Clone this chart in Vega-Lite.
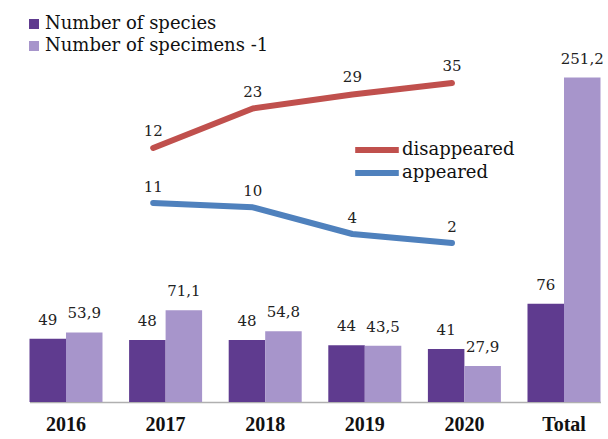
{
  "$schema": "https://vega.github.io/schema/vega-lite/v6.json",
  "width": 571,
  "height": 372,
  "autosize": "none",
  "padding": {"left": 29.5, "top": 30, "right": 7.5, "bottom": 37},
  "background": "white",
  "config": {
    "view": {"stroke": null},
    "font": "DejaVu Serif",
    "text": {"font": "DejaVu Serif"},
    "legend": {"labelFont": "DejaVu Serif"},
    "axis": {"labelFont": "Liberation Serif"},
    "locale": {"number": {"decimal": ",", "thousands": " ", "grouping": [3], "currency": ["", ""]}}
  },
  "datasets": {
    "bars": [
      {"year": "2016", "series": "Number of species", "value": 49},
      {"year": "2016", "series": "Number of specimens -1", "value": 53.9},
      {"year": "2017", "series": "Number of species", "value": 48},
      {"year": "2017", "series": "Number of specimens -1", "value": 71.1},
      {"year": "2018", "series": "Number of species", "value": 48},
      {"year": "2018", "series": "Number of specimens -1", "value": 54.8},
      {"year": "2019", "series": "Number of species", "value": 44},
      {"year": "2019", "series": "Number of specimens -1", "value": 43.5},
      {"year": "2020", "series": "Number of species", "value": 41},
      {"year": "2020", "series": "Number of specimens -1", "value": 27.9},
      {"year": "Total", "series": "Number of species", "value": 76},
      {"year": "Total", "series": "Number of specimens -1", "value": 251.2}
    ],
    "lines": [
      {"year": "2017", "type": "disappeared", "value": 12},
      {"year": "2018", "type": "disappeared", "value": 23},
      {"year": "2019", "type": "disappeared", "value": 29},
      {"year": "2020", "type": "disappeared", "value": 35},
      {"year": "2017", "type": "appeared", "value": 11},
      {"year": "2018", "type": "appeared", "value": 10},
      {"year": "2019", "type": "appeared", "value": 4},
      {"year": "2020", "type": "appeared", "value": 2}
    ]
  },
  "layer": [
    {
      "data": {"name": "bars"},
      "encoding": {
        "x": {
          "field": "year", "type": "nominal", "sort": null,
          "scale": {"domain": ["2016", "2017", "2018", "2019", "2020", "Total"], "paddingInner": 0.267, "paddingOuter": 0},
          "axis": {"title": null, "ticks": false, "labelAngle": 0, "labelFontSize": 20, "labelFontWeight": "bold", "labelColor": "#111111", "labelPadding": 12, "domainColor": "#b0b0b0", "domainWidth": 1.5, "grid": false}
        },
        "xOffset": {"field": "series", "type": "nominal", "sort": null},
        "y": {"field": "value", "type": "quantitative", "scale": {"domain": [0, 288], "nice": false}, "axis": null}
      },
      "layer": [
        {
          "mark": {"type": "bar"},
          "encoding": {
            "fill": {
              "field": "series", "type": "nominal", "sort": null,
              "scale": {"domain": ["Number of species", "Number of specimens -1"], "range": ["#5f3b8f", "#a795cb"]},
              "legend": {"title": null, "orient": "none", "legendX": -4.5, "legendY": -15, "symbolType": "square", "symbolSize": 100, "symbolStrokeWidth": 0, "labelFontSize": 18, "labelColor": "#111111", "labelOffset": 2, "rowPadding": 4, "labelLimit": 400}
            }
          }
        },
        {
          "mark": {"type": "text", "dy": -19, "baseline": "middle", "fontSize": 15, "color": "#222222"},
          "encoding": {"text": {"field": "value", "type": "quantitative", "format": ".4~r"}}
        }
      ]
    },
    {
      "data": {"name": "lines"},
      "transform": [{"filter": "datum.type == 'disappeared'"}],
      "encoding": {
        "x": {"field": "year", "type": "nominal", "sort": null, "bandPosition": 0.33},
        "y": {"field": "value", "type": "quantitative", "scale": {"type": "log", "domain": [0.183, 83.8], "nice": false}, "axis": null}
      },
      "layer": [
        {
          "mark": {"type": "line", "strokeWidth": 6, "strokeCap": "round", "strokeJoin": "round", "interpolate": "linear"},
          "encoding": {
            "stroke": {
              "field": "type", "type": "nominal",
              "scale": {"domain": ["disappeared", "appeared"], "range": ["#c0504d", "#4f81bd"]},
              "legend": {"title": null, "orient": "none", "legendX": 322.5, "legendY": 108.5, "symbolType": "stroke", "symbolSize": 1900, "symbolStrokeWidth": 6, "clipHeight": 23, "labelFontSize": 18, "labelColor": "#111111", "labelOffset": 0, "rowPadding": 0, "labelLimit": 400}
            }
          }
        },
        {
          "mark": {"type": "text", "dy": -17, "baseline": "middle", "fontSize": 15, "color": "#222222"},
          "encoding": {"text": {"field": "value", "type": "quantitative"}}
        }
      ]
    },
    {
      "data": {"name": "lines"},
      "transform": [{"filter": "datum.type == 'appeared'"}],
      "encoding": {
        "x": {"field": "year", "type": "nominal", "sort": null, "bandPosition": 0.33},
        "y": {"field": "value", "type": "quantitative", "scale": {"domain": [-33.8, 49.9], "nice": false, "zero": false}, "axis": null}
      },
      "layer": [
        {
          "mark": {"type": "line", "strokeWidth": 6, "strokeCap": "round", "strokeJoin": "round", "interpolate": "linear"},
          "encoding": {"stroke": {"field": "type", "type": "nominal"}}
        },
        {
          "mark": {"type": "text", "dy": -16, "baseline": "middle", "fontSize": 15, "color": "#222222"},
          "encoding": {"text": {"field": "value", "type": "quantitative"}}
        }
      ]
    }
  ],
  "resolve": {"scale": {"y": "independent"}, "axis": {"y": "independent"}}
}
